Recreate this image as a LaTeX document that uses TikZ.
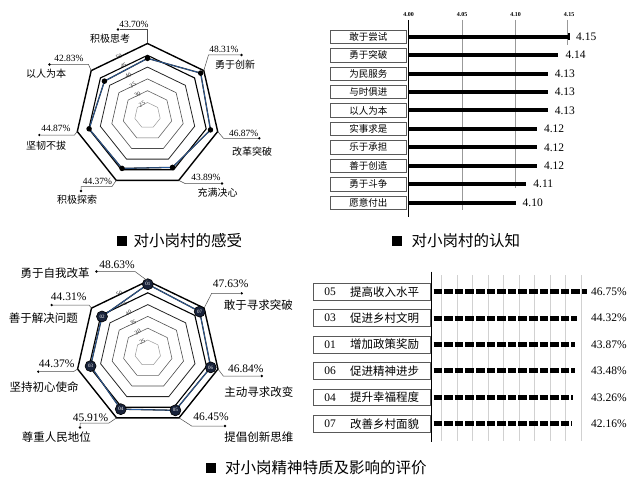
\documentclass[tikz,border=0pt]{standalone}
\usepackage{fontspec}
\setmainfont{Liberation Serif}
\newfontfamily\cjk{Noto Sans CJK SC}
\usetikzlibrary{calc,positioning,shapes.geometric}
\definecolor{radarblue}{RGB}{40,92,160}
\definecolor{badgenavy}{RGB}{24,34,58}
\tikzset{
  heptring/.style={regular polygon, regular polygon sides=7, minimum size=#1, inner sep=0pt, outer sep=0pt},
  scalelbl/.style={font=\fontsize{6}{6}\selectfont, text=black!85, inner sep=0pt, rotate=25.7},
  dataline/.style={draw=black!85, line width=0.3pt, double=radarblue, double distance=0.7pt},
  datadot/.style={circle, fill=black, inner sep=0pt, minimum size=5.5pt},
  badge/.style={circle, draw=black, line width=0.6pt, fill=badgenavy, text=white, inner sep=0pt, minimum size=11pt, font=\fontsize{5}{5}\selectfont},
  leader/.style={draw=black!70, line width=0.5pt},
  enddot/.style={circle, fill=black, inner sep=0pt, minimum size=2.6pt},
  tlbl/.style={font=\cjk\fontsize{10}{12}\selectfont, inner sep=0pt},
  tpct/.style={font=\fontsize{9.5}{11}\selectfont, inner sep=0pt},
  blbl/.style={font=\cjk\fontsize{11.5}{13}\selectfont, inner sep=0pt},
  bpct/.style={font=\fontsize{11.5}{13}\selectfont, inner sep=0pt},
  namebox/.style={draw=black!65, line width=0.6pt, minimum width=76.7pt, minimum height=13.5pt, inner sep=0pt, font=\cjk\fontsize{9.5}{11}\selectfont},
  kbar/.style={line width=4pt},
  kval/.style={font=\fontsize{11.5}{13}\selectfont, inner sep=0pt},
  kgrid/.style={draw=black!40, line width=0.6pt},
  ticklbl/.style={font=\bfseries\fontsize{6}{6}\selectfont, inner sep=0pt},
  axisline/.style={draw=black, line width=1.2pt},
  evalbox/.style={draw=black!65, line width=0.6pt, minimum width=117pt, minimum height=16.7pt, inner sep=0pt},
  ebar/.style={line width=5pt, dash pattern=on 8.6pt off 2pt},
  egrid/.style={draw=black!18, line width=0.6pt},
  capsq/.style={fill=black, minimum size=10pt, inner sep=0pt},
  captxt/.style={font=\cjk\fontsize{15.5}{17}\selectfont, inner sep=0pt, anchor=west}
}
% rings and scale of one radar, #1 = prefix of its names
\newcommand{\radarbase}[1]{%
  \foreach \v/\w/\c in {50/1.4/black,45/1.1/black,40/0.8/black!85,35/0.6/black!70,30/0.6/black!60,25/0.5/black!40}{
    \node[heptring={2*(13+(\v-25)*2.36)}, line width=\w pt, draw=\c] (#1r\v) at (#1c) {};
    \node[scalelbl] (#1s\v) at ($(#1c)+(115.714:{0.901*(13+(\v-25)*2.36)+0.8})$) {\v};
  }%
}

\begin{document}
\begin{tikzpicture}[x=1pt,y=1pt]
%%%%% START %%%%%
\useasboundingbox (0,0) rectangle (639,-476);

%% radar: feelings
\coordinate (tc) at (147.5,-115.5);
\radarbase{t}
\foreach \v [count=\i] in {43.70,48.31,46.87,43.89,44.37,44.87,42.83}
  \coordinate (tp\i) at ($(tc)+({90-(\i-1)*360/7}:{13+(\v-25)*2.36})$);
\draw[dataline] (tp1) -- (tp2) -- (tp3) -- (tp4) -- (tp5) -- (tp6) -- (tp7) -- cycle;
\foreach \i in {1,...,7} \node[datadot] (td\i) at (tp\i) {};

\node[enddot] (te1) at (118,-29.5) {};
\draw[leader] (tr50.corner 1) |- (te1);
\node[tpct] (tv1) at (134,-24.5) {43.70\%};
\node[tlbl] (tl1) at (110,-39) {积极思考};

\node[enddot] (te2) at (241.5,-55) {};
\coordinate (tb2) at (208.5,-55);
\draw[leader] (tr50.corner 7) -- (tb2) -- (te2);
\node[tpct] (tv2) at (224,-49) {48.31\%};
\node[tlbl] (tl2) at (235,-65) {勇于创新};

\node[enddot] (te3) at (259.3,-138.3) {};
\coordinate (tb3) at (223.5,-138.3);
\draw[leader] (tr50.corner 6) -- (tb3) -- (te3);
\node[tpct] (tv3) at (243.7,-133) {46.87\%};
\node[tlbl] (tl3) at (252,-152) {改革突破};

\node[enddot] (te4) at (222,-183.5) {};
\coordinate (tb4) at (185,-183.5);
\draw[leader] (tr50.corner 5) -- (tb4) -- (te4);
\node[tpct] (tv4) at (206,-177.5) {43.89\%};
\node[tlbl] (tl4) at (217.5,-192.5) {充满决心};

\node[enddot] (te5) at (81,-191) {};
\coordinate (tb5) at (112,-186.5);
\draw[leader] (tr50.corner 4) -- (tb5) -| (te5);
\node[tpct] (tv5) at (97.5,-181) {44.37\%};
\node[tlbl] (tl5) at (77,-200) {积极探索};

\node[enddot] (te6) at (39.3,-135) {};
\coordinate (tb6) at (74.5,-135);
\draw[leader] (tr50.corner 3) -- (tb6) -- (te6);
\node[tpct] (tv6) at (56,-128.5) {44.87\%};
\node[tlbl] (tl6) at (46,-146) {坚韧不拔};

\node[enddot] (te7) at (49.5,-64.5) {};
\coordinate (tb7) at (88.5,-64.5);
\draw[leader] (tr50.corner 2) -- (tb7) -- (te7);
\node[tpct] (tv7) at (69,-58.5) {42.83\%};
\node[tlbl] (tl7) at (46,-74) {以人为本};

%% bars: knowledge
\foreach \t/\x in {4.00/408.5,4.05/462,4.10/515.5,4.15/569}
  \node[ticklbl] (kt\t) at (\x,-15) {\t};
\draw[kgrid] (462,-20) -- (462,-210);
\draw[kgrid] (515.5,-20) -- (515.5,-188);
\draw[kgrid] (567,-20) -- (567,-45);
\foreach \t/\v [count=\i] in {敢于尝试/4.15,勇于突破/4.14,为民服务/4.13,与时俱进/4.13,以人为本/4.13,实事求是/4.12,乐于承担/4.12,善于创造/4.12,勇于斗争/4.11,愿意付出/4.10}{
  \node[namebox] (kb\i) at (368.3,{-36.7-18.44*(\i-1)}) {\t};
  \coordinate (ks\i) at (408.5,{-36.7-18.44*(\i-1)});
  \coordinate (ke\i) at ({408.5+(\v-4)*1070},{-36.7-18.44*(\i-1)});
  \draw[kbar] (ks\i) -- (ke\i);
  \node[kval, anchor=west, right=7pt of ke\i] (kv\i) {\v};
}
\node[fill=black, minimum width=2.4pt, minimum height=7pt, inner sep=0pt] (kmark) at (ke1) {};
\coordinate (kaxt) at (408.5,-20);
\coordinate (kaxb) at (408.5,-217);
\draw[axisline] (kaxt) -- (kaxb);

%% captions, top row
\node[capsq] (c1sq) at (122,-240.8) {};
\node[captxt] (c1) at (133.5,-240.8) {对小岗村的感受};
\node[capsq] (c2sq) at (396.7,-240.8) {};
\node[captxt] (c2) at (411.5,-240.8) {对小岗村的认知};

%% radar: traits
\coordinate (bc) at (147.8,-353);
\radarbase{b}
\foreach \v [count=\i] in {48.63,47.63,46.84,46.45,45.91,44.37,44.31}
  \coordinate (bp\i) at ($(bc)+({90-(\i-1)*360/7}:{13+(\v-25)*2.36})$);
\draw[dataline] (bp1) -- (bp2) -- (bp3) -- (bp4) -- (bp5) -- (bp6) -- (bp7) -- cycle;
\foreach \n [count=\i] in {01,07,06,05,04,03,02}
  \node[badge] (bd\i) at (bp\i) {\n};

\node[enddot] (be1) at (96.5,-271.5) {};
\coordinate (bb1) at (135,-271.5);
\draw[leader] (br50.corner 1) -- (bb1) -- (be1);
\node[bpct] (bv1) at (117,-264.5) {48.63\%};
\node[blbl] (bl1) at (55,-273.3) {勇于自我改革};

\node[enddot] (be2) at (241.7,-293.3) {};
\coordinate (bb2) at (211.7,-293.3);
\draw[leader] (br50.corner 7) -- (bb2) -- (be2);
\node[bpct] (bv2) at (230.7,-284) {47.63\%};
\node[blbl] (bl2) at (258.3,-305) {敢于寻求突破};

\node[enddot] (be3) at (261.7,-376) {};
\coordinate (bb3) at (223.3,-376);
\draw[leader] (br50.corner 6) -- (bb3) -- (be3);
\node[bpct] (bv3) at (245.8,-368.5) {46.84\%};
\node[blbl] (bl3) at (258.8,-391.7) {主动寻求改变};

\node[enddot] (be4) at (225,-426) {};
\coordinate (bb4) at (191.7,-426);
\draw[leader] (br50.corner 5) -- (bb4) -- (be4);
\node[bpct] (bv4) at (211,-416.5) {46.45\%};
\node[blbl] (bl4) at (258.8,-436.7) {提倡创新思维};

\node[enddot] (be5) at (80,-427.5) {};
\coordinate (bb5) at (109,-423);
\draw[leader] (br50.corner 4) -- (bb5) -| (be5);
\node[bpct] (bv5) at (90.5,-417.5) {45.91\%};
\node[blbl] (bl5) at (56.3,-436.7) {尊重人民地位};

\node[enddot] (be6) at (38.3,-371.7) {};
\coordinate (bb6) at (73.3,-371.7);
\draw[leader] (br50.corner 3) -- (bb6) -- (be6);
\node[bpct] (bv6) at (56.7,-363.5) {44.37\%};
\node[blbl] (bl6) at (44.2,-386.7) {坚持初心使命};

\node[enddot] (be7) at (51.7,-305) {};
\coordinate (bb7) at (89,-305);
\draw[leader] (br50.corner 2) -- (bb7) -- (be7);
\node[bpct] (bv7) at (68.7,-297) {44.31\%};
\node[blbl] (bl7) at (43.3,-318.3) {善于解决问题};

%% bars: evaluation
\foreach \k in {0,...,9}
  \draw[egrid] ({441.7+15.5*\k},-275) -- ({441.7+15.5*\k},-441);
\foreach \n/\t/\p/\x [count=\i] in {05/提高收入水平/46.75/586.7,03/促进乡村文明/44.32/577.3,01/增加政策奖励/43.87/575,06/促进精神进步/43.48/575,04/提升幸福程度/43.26/573.3,07/改善乡村面貌/42.16/571.7}{
  \node[evalbox] (eb\i) at (371.5,{-291.7-26.4*(\i-1)}) {};
  \node[bpct] (en\i) at (330,{-291.7-26.4*(\i-1)}) {\n};
  \node[blbl] (et\i) at (384.6,{-291.7-26.4*(\i-1)}) {\t};
  \coordinate (es\i) at (433.5,{-291.7-26.4*(\i-1)});
  \coordinate (ee\i) at (\x,{-291.7-26.4*(\i-1)});
  \draw[ebar] (es\i) -- (ee\i);
  \node[bpct, anchor=west] (ev\i) at (591,{-291.7-26.4*(\i-1)}) {\p\%};
}
\coordinate (eaxt) at (431.7,-271.7);
\coordinate (eaxb) at (431.7,-441.7);
\draw[axisline] (eaxt) -- (eaxb);

%% caption, bottom row
\node[capsq] (c3sq) at (210.5,-468) {};
\node[captxt] (c3) at (225,-468) {对小岗精神特质及影响的评价};

%%%%% END %%%%%
\end{tikzpicture}
\end{document}
